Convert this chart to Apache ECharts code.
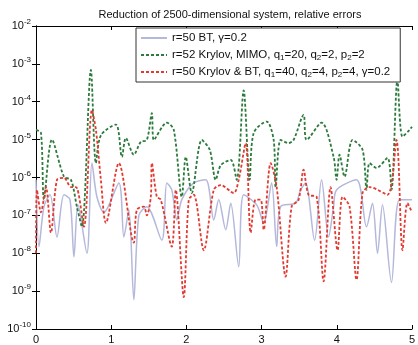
<!DOCTYPE html>
<html><head><meta charset="utf-8">
<script src="https://cdn.jsdelivr.net/npm/echarts@6/dist/echarts.min.js"></script>
<style>html,body{margin:0;padding:0;background:#fff}#c{width:418px;height:345px}</style>
</head><body><div id="c"></div>
<script>
const title = 'Reduction of 2500-dimensional system, relative errors';
const seriesNames = ['r=50 BT, γ=0.2', 'r=52 Krylov, MIMO, q_1=20, q_2=2, p_2=2', 'r=50 Krylov & BT, q_1=40, q_2=4, p_2=4, γ=0.2'];
const xTicks = [0, 1, 2, 3, 4, 5];

const btX = [0,0.04,0.106,0.186,0.279,0.372,0.452,0.505,0.558,0.677,0.744,0.81,0.903,1.102,1.169,1.235,1.301,1.368,1.474,1.673,1.74,1.806,1.873,1.939,2.098,2.258,2.364,2.43,2.523,2.59,2.696,2.762,2.935,3.028,3.134,3.201,3.254,3.453,3.519,3.586,3.705,3.798,3.891,3.958,3.997,4.263,4.396,4.475,4.542,4.608,4.728,4.834,5];
const btY = [8.7e-7,1.5e-8,1.7e-7,3.5e-7,2.7e-8,3.5e-7,2.6e-7,8e-9,1.9e-7,1e-8,2.4e-6,3.1e-7,1.2e-7,7.2e-7,2.7e-8,1.4e-7,5.9e-10,1e-7,1.7e-7,2.2e-8,7.2e-7,4.7e-7,7.6e-8,2.6e-7,7.2e-7,8.7e-7,7.6e-8,2.6e-7,4.2e-8,2.1e-7,4.4e-9,3.5e-7,1.9e-7,6.3e-8,7.2e-7,1.5e-8,1.7e-7,2.1e-7,4.7e-7,7.2e-7,2.2e-8,8.7e-7,2.7e-8,1.7e-7,4.7e-7,8.7e-7,5e-8,2.1e-7,1e-8,1.9e-7,1.7e-9,2.6e-7,2.6e-7];

const krX = [0,0.066,0.106,0.212,0.372,0.465,0.544,0.611,0.73,0.797,0.863,1.062,1.142,1.195,1.301,1.394,1.474,1.541,1.567,1.74,1.833,1.939,1.992,2.072,2.205,2.311,2.39,2.457,2.59,2.669,2.762,2.842,2.895,3.068,3.161,3.187,3.254,3.36,3.426,3.559,3.599,3.798,3.958,3.997,4.037,4.104,4.21,4.343,4.396,4.436,4.529,4.675,4.728,4.807,4.874,4.967,5];
const krY = [1.8e-5,1.5e-5,2.6e-7,1e-5,1.05e-6,8.7e-7,1.7e-7,5e-8,6.9e-4,2.4e-6,1.3e-5,2.5e-5,3.5e-6,1.1e-5,4e-6,8.7e-6,9.8e-6,5e-5,9.8e-6,2.8e-5,1.8e-5,3.1e-7,3.5e-6,3.9e-7,9.8e-6,5.4e-6,8.7e-7,2.1e-6,2.9e-6,8.7e-7,2e-4,8.7e-7,1.5e-5,3e-5,9.8e-6,5.6e-7,9.8e-6,8.1e-6,9.8e-6,4.5e-5,9.8e-6,2.8e-5,3.5e-6,8.7e-7,4e-6,1.05e-6,9.8e-6,5.4e-6,4.7e-7,2.4e-6,1.8e-6,3.3e-6,4.7e-7,3.8e-4,1.2e-5,1.8e-5,2.2e-5];

const kbX = [0,0.013,0.066,0.133,0.199,0.279,0.372,0.465,0.531,0.637,0.744,0.797,0.863,0.93,1.102,1.301,1.341,1.434,1.474,1.527,1.541,1.607,1.66,1.806,1.859,1.965,2.032,2.098,2.231,2.364,2.457,2.629,2.696,2.789,2.855,2.922,2.988,3.028,3.121,3.201,3.32,3.4,3.493,3.559,3.625,3.732,3.825,3.918,4.011,4.077,4.17,4.263,4.343,4.436,4.675,4.794,4.874,4.94,5];
const kbY = [1e-8,4.7e-7,1.2e-7,5.6e-7,3.5e-8,8.7e-7,9.8e-7,5.6e-7,5.6e-7,5e-8,6e-5,1.8e-5,8.7e-7,6.3e-8,2.4e-6,1.9e-8,1.4e-7,1.7e-7,1e-7,3.1e-7,2.4e-6,3.1e-7,2.6e-7,1.5e-8,4.7e-7,7e-10,2.6e-7,3.5e-7,1.2e-8,4.7e-7,6.3e-7,3.9e-7,8.7e-7,8.1e-6,3.5e-8,2.6e-7,2.6e-7,4.2e-8,2.4e-6,5.6e-7,2.4e-9,1.7e-7,2.6e-7,1.6e-6,3.5e-7,3.1e-7,1.8e-9,5.6e-7,1.2e-8,3.1e-7,1.7e-7,2e-9,3.9e-7,5.6e-7,3.5e-7,9.8e-6,1.2e-8,2.1e-7,1.2e-7];

const zip = (xs, ys) => xs.map((x, i) => [x, ys[i]]);
const font = 'Liberation Sans';
const chart = echarts.init(document.getElementById('c'));
const axisLine = {show: true, lineStyle: {color: '#000', width: 1}};
const tick = {show: true, inside: true, length: 4, lineStyle: {color: '#000'}};
chart.setOption({
  animation: false,
  title: {text: title, left: 225, textAlign: 'center', top: 4,
    textStyle: {fontFamily: font, fontSize: 11, fontWeight: 'normal', color: '#111'}},
  grid: {left: 36, right: 5, top: 26, bottom: 16},
  legend: {
    orient: 'vertical', left: 136, top: 28,
    backgroundColor: '#fff', borderColor: '#333', borderWidth: 1, borderRadius: 0,
    padding: [3, 10, 3, 4], itemGap: 3, itemWidth: 26, itemHeight: 12,
    itemStyle: {opacity: 0},
    formatter: n => n.replace(/_(\d)/g, '{sub|$1}'),
    textStyle: {fontFamily: font, fontSize: 11.5, color: '#111', lineHeight: 14,
      rich: {sub: {fontSize: 8, fontFamily: font, verticalAlign: 'bottom', lineHeight: 10, padding: [5, 0, 0, 0]}}}
  },
  xAxis: [
    {type: 'value', min: 0, max: 5, interval: 1, axisLine, axisTick: tick,
     splitLine: {show: false},
     axisLabel: {fontFamily: font, fontSize: 11, color: '#111', margin: 5}},
    {type: 'value', position: 'top', min: 0, max: 5, interval: 1, axisLine, axisTick: tick,
     splitLine: {show: false}, axisLabel: {show: false}}
  ],
  yAxis: [
    {type: 'log', logBase: 10, min: 1e-10, max: 1e-2, splitNumber: 8, axisLine, axisTick: tick,
     splitLine: {show: false},
     axisLabel: {fontFamily: font, fontSize: 11, color: '#111', margin: 5,
       formatter: v => '10{sup|' + Math.round(Math.log10(v)) + '}',
       rich: {sup: {fontSize: 8, fontFamily: font, verticalAlign: 'top', padding: [0, 0, 8, 0]}}}},
    {type: 'log', logBase: 10, min: 1e-10, max: 1e-2, splitNumber: 8, position: 'right', axisLine, axisTick: tick,
     splitLine: {show: false}, axisLabel: {show: false}}
  ],
  series: [
    {name: seriesNames[0], type: 'line', symbol: 'none', smooth: 0.3, data: zip(btX, btY),
     lineStyle: {color: '#b4b8da', width: 1.5}, itemStyle: {color: '#b4b8da'}},
    {name: seriesNames[1], type: 'line', symbol: 'none', smooth: 0.3, data: zip(krX, krY),
     lineStyle: {color: '#2c7a3c', width: 1.8, type: [3, 2]}, itemStyle: {color: '#2c7a3c'}},
    {name: seriesNames[2], type: 'line', symbol: 'none', smooth: 0.3, data: zip(kbX, kbY),
     lineStyle: {color: '#e23a30', width: 1.8, type: [3, 2]}, itemStyle: {color: '#e23a30'}}
  ]
});
</script></body></html>
